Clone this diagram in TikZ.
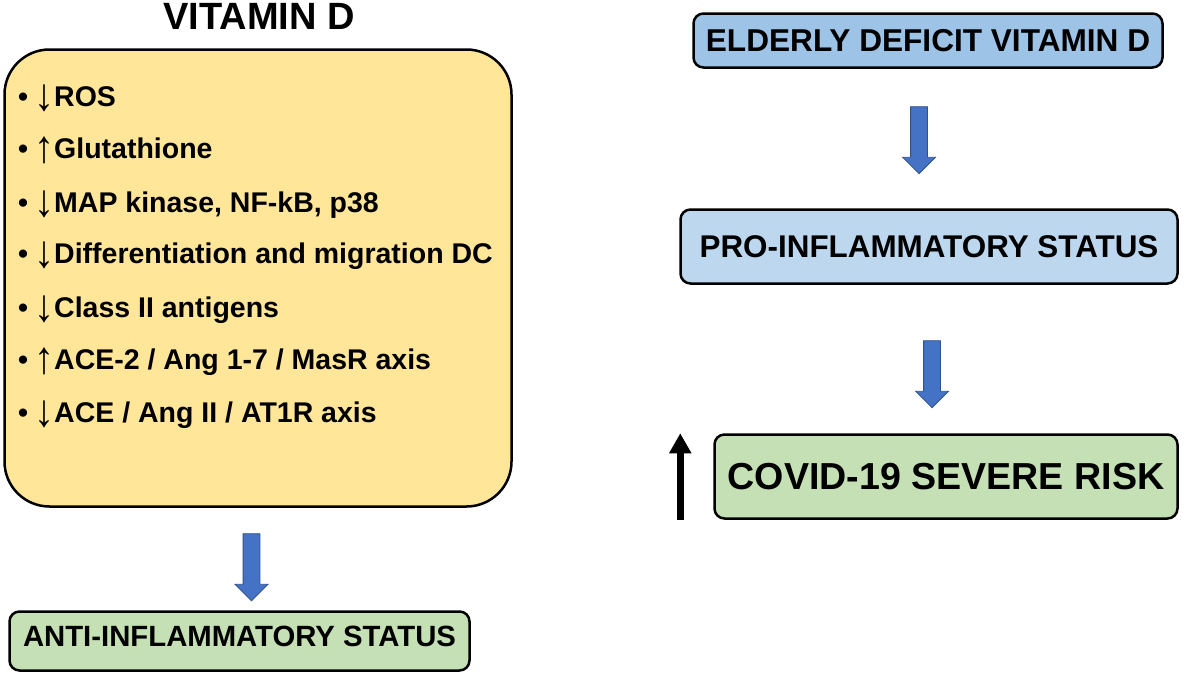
\documentclass[tikz,border=0pt]{standalone}
\usepackage{fontspec}
\setmainfont{Liberation Sans}
\usepackage{tikz}
\usetikzlibrary{shapes,arrows.meta,positioning,calc}
\usepackage{xcolor}
\definecolor{vitfill}{HTML}{FFE699}
\definecolor{bluedark}{HTML}{9DC3E6}
\definecolor{bluelight}{HTML}{BDD7EE}
\definecolor{greenfill}{HTML}{C5E0B4}
\definecolor{arrowfill}{HTML}{4472C4}
\definecolor{arrowline}{HTML}{2F528F}
\newcommand{\fsz}[1]{\fontsize{#1pt}{#1pt}\selectfont\bfseries}
\newcommand{\itm}[2]{\makebox[19pt][l]{•}\makebox[14pt]{\raisebox{-4pt}{\scalebox{1.4}[1.6]{#1}}}\hspace{3pt}#2}
\tikzset{
    statbox/.style={draw=black, line width=2.5pt, rounded corners=10pt, inner sep=0pt},
    downarrow/.style={single arrow, shape border rotate=270, draw=arrowline, fill=arrowfill,
        line width=0.8pt, inner sep=8pt, minimum height=67pt,
        single arrow head extend=8pt, anchor=tip},
    itemtext/.style={anchor=base west, inner sep=0pt, font=\fsz{28.5}}
}

\begin{document}
\begin{tikzpicture}[x=1pt, y=-1pt]
    \useasboundingbox (0,0) rectangle (1200,673);
    % left column
    \node[font=\fsz{38}] (title) at (259,16) {VITAMIN D};
    \node[draw=black, line width=2.5pt, fill=vitfill, rounded corners=45pt,
        minimum width=507pt, minimum height=457pt] (vitbox) at (258,278) {};
    \node[itemtext] (ros) at (18,106) {\itm{↓}{ROS}};
    \node[itemtext] (glut) at (18,158) {\itm{↑}{Glutathione}};
    \node[itemtext] (map) at (18,212) {\itm{↓}{MAP kinase, NF-kB, p38}};
    \node[itemtext] (diff) at (18,263) {\itm{↓}{Differentiation and migration DC}};
    \node[itemtext] (class) at (18,317) {\itm{↓}{Class II antigens}};
    \node[itemtext] (ace2) at (18,369) {\itm{↑}{ACE-2 / Ang 1-7 / MasR axis}};
    \node[itemtext] (ace) at (18,422) {\itm{↓}{ACE / Ang II / AT1R axis}};
    \node[statbox, fill=greenfill, minimum width=460pt, minimum height=59pt,
        text depth=10pt, font=\fsz{29.3}] (anti) at (239.5,641) {ANTI-INFLAMMATORY STATUS};
    \node[downarrow] (arranti) at ([xshift=12pt,yshift=9pt]anti.north) {};
    % right column
    \node[statbox, fill=bluedark, minimum width=469pt, minimum height=54pt,
        font=\fsz{31.6}] (elderly) at (928,40.5) {ELDERLY DEFICIT VITAMIN D};
    \node[statbox, fill=bluelight, minimum width=497pt, minimum height=74pt,
        font=\fsz{31.4}] (pro) at (929,246.5) {PRO-INFLAMMATORY STATUS};
    \node[statbox, fill=greenfill, minimum width=463pt, minimum height=84pt,
        font=\fsz{37.6}] (covid) at (946,476.5) {COVID-19 SEVERE RISK};
    \node[downarrow] (arrpro) at ([xshift=-10pt,yshift=34pt]pro.north) {};
    \node[downarrow] (arrcovid) at ([xshift=-14pt,yshift=25pt]covid.north) {};
    \draw[line width=7pt, -{Triangle[width=21pt,length=20pt]}]
        ([xshift=-33pt]covid.south west) -- ([xshift=-33pt]covid.north west);
\end{tikzpicture}
\end{document}
